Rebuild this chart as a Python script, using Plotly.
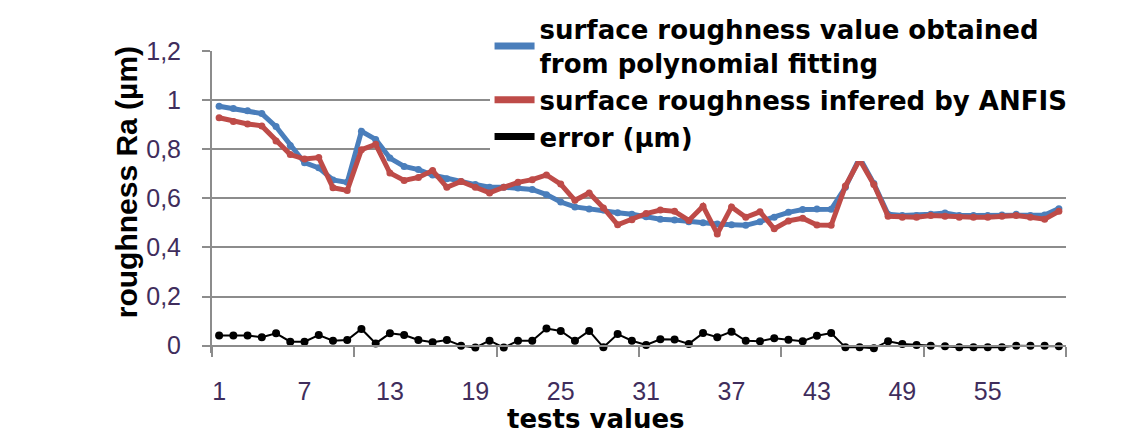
import plotly.graph_objects as go

# test index (categories)
tests = list(range(1, 61))

# surface roughness from polynomial fitting (um)
ra_poly = [0.975, 0.966, 0.957, 0.945, 0.892, 0.815, 0.745, 0.724, 0.675, 0.665,
           0.873, 0.840, 0.764, 0.730, 0.717, 0.695, 0.680, 0.669, 0.656, 0.645,
           0.645, 0.642, 0.636, 0.615, 0.585, 0.565, 0.556, 0.552, 0.541, 0.535,
           0.525, 0.515, 0.512, 0.505, 0.500, 0.495, 0.492, 0.490, 0.505, 0.523,
           0.543, 0.554, 0.556, 0.555, 0.645, 0.765, 0.660, 0.535, 0.530, 0.530,
           0.535, 0.540, 0.530, 0.530, 0.530, 0.532, 0.535, 0.530, 0.532, 0.558]

# surface roughness inferred by ANFIS (um)
ra_anfis = [0.928, 0.913, 0.903, 0.895, 0.833, 0.778, 0.760, 0.766, 0.643, 0.632,
            0.798, 0.820, 0.703, 0.673, 0.685, 0.713, 0.645, 0.669, 0.645, 0.622,
            0.645, 0.665, 0.676, 0.695, 0.658, 0.592, 0.622, 0.561, 0.492, 0.513,
            0.538, 0.552, 0.547, 0.510, 0.568, 0.455, 0.565, 0.523, 0.545, 0.476,
            0.508, 0.519, 0.491, 0.490, 0.650, 0.757, 0.656, 0.527, 0.523, 0.523,
            0.530, 0.527, 0.523, 0.523, 0.523, 0.527, 0.530, 0.523, 0.515, 0.547]

# error (um)
err = [0.041, 0.041, 0.041, 0.034, 0.050, 0.016, 0.016, 0.043, 0.020, 0.023,
       0.068, 0.009, 0.050, 0.043, 0.023, 0.014, 0.023, 0.000, -0.008, 0.020,
       -0.008, 0.020, 0.020, 0.070, 0.060, 0.020, 0.060, -0.007, 0.047, 0.020,
       0.003, 0.026, 0.025, 0.007, 0.051, 0.034, 0.057, 0.020, 0.018, 0.030,
       0.024, 0.018, 0.040, 0.051, -0.007, -0.007, -0.011, 0.018, 0.007, 0.003,
       0.000, -0.003, -0.007, -0.007, -0.007, -0.007, 0.000, 0.000, 0.000, -0.003]

y_tickvals = [0, 0.2, 0.4, 0.6, 0.8, 1.0, 1.2]
y_ticktext = ["0", "0,2", "0,4", "0,6", "0,8", "1", "1,2"]
x_labels = [1, 7, 13, 19, 25, 31, 37, 43, 49, 55]
x_tickmarks = [0.5, 10.5, 20.5, 30.5, 40.5, 50.5, 60.5]

Y_MIN, Y_MAX = -0.03, 1.2   # small room below zero for the error dots

BLUE = "#4a7ebb"
RED = "#be4b48"
GRID = "#8c8c8c"
FONT = "Liberation Sans"
WIDE = "DejaVu Sans"        # the legend/x-title text in the picture is wide
TICKCOL = "#3f2d5c"

series = [
    ("surface roughness value obtained<br>from polynomial fitting", ra_poly, BLUE),
    ("surface roughness infered by ANFIS", ra_anfis, RED),
    ("error (µm)", err, "black"),
]

fig = go.Figure()
for name, vals, col in series:
    fig.add_trace(go.Scatter(
        x=tests, y=vals, mode="lines+markers",
        line=dict(color=col, width=5 if col != "black" else 2),
        marker=dict(color=col, size=7 if col != "black" else 8),
        showlegend=False,
    ))
    # legend entry drawn as a plain thick line
    fig.add_trace(go.Scatter(
        x=[None], y=[None], mode="lines", name=name,
        line=dict(color=col, width=7),
    ))

fig.update_xaxes(
    range=[0.5, 60.5],
    anchor="free", position=-Y_MIN / (Y_MAX - Y_MIN),  # axis line sits at y = 0
    showgrid=False, zeroline=False,
    showline=True, linecolor=GRID, linewidth=2,
    tickmode="array", tickvals=x_labels, ticks="",
    ticklabelstandoff=23,
    tickfont=dict(family=FONT, size=25, color=TICKCOL),
    minor=dict(tickmode="array", tickvals=x_tickmarks, ticks="outside",
               ticklen=10, tickcolor=GRID, tickwidth=2, showgrid=False),
)
fig.update_yaxes(
    range=[Y_MIN, Y_MAX],
    tickmode="array", tickvals=y_tickvals, ticktext=y_ticktext,
    showgrid=True, gridcolor=GRID, gridwidth=2, zeroline=False,
    showline=True, linecolor=GRID, linewidth=2,
    ticks="outside", ticklen=8, tickcolor=GRID, tickwidth=2,
    ticklabelstandoff=16,
    tickfont=dict(family=FONT, size=25, color=TICKCOL),
)

fig.update_layout(
    width=1140, height=434,
    margin=dict(l=204, r=82, t=43, b=89, autoexpand=False),
    paper_bgcolor="white", plot_bgcolor="white",
    font=dict(family=FONT, color="black"),
    showlegend=True,
    legend=dict(
        x=0.325, y=1.15, xanchor="left", yanchor="top",
        bgcolor="white", borderwidth=0,
        font=dict(family=WIDE, size=26, color="black", weight="bold"),
        tracegroupgap=0, itemwidth=40,
    ),
    annotations=[
        dict(text="roughness Ra (µm)", textangle=-90, showarrow=False,
             xref="paper", yref="paper", x=-0.1, y=0.564,
             xanchor="center", yanchor="middle",
             font=dict(family=FONT, size=30, color="black", weight="bold")),
        dict(text="tests values", showarrow=False,
             xref="paper", yref="paper", x=0.45, y=-0.218,
             xanchor="center", yanchor="middle",
             font=dict(family=WIDE, size=26, color="black", weight="bold")),
    ],
)

fig.write_html("out.html")
